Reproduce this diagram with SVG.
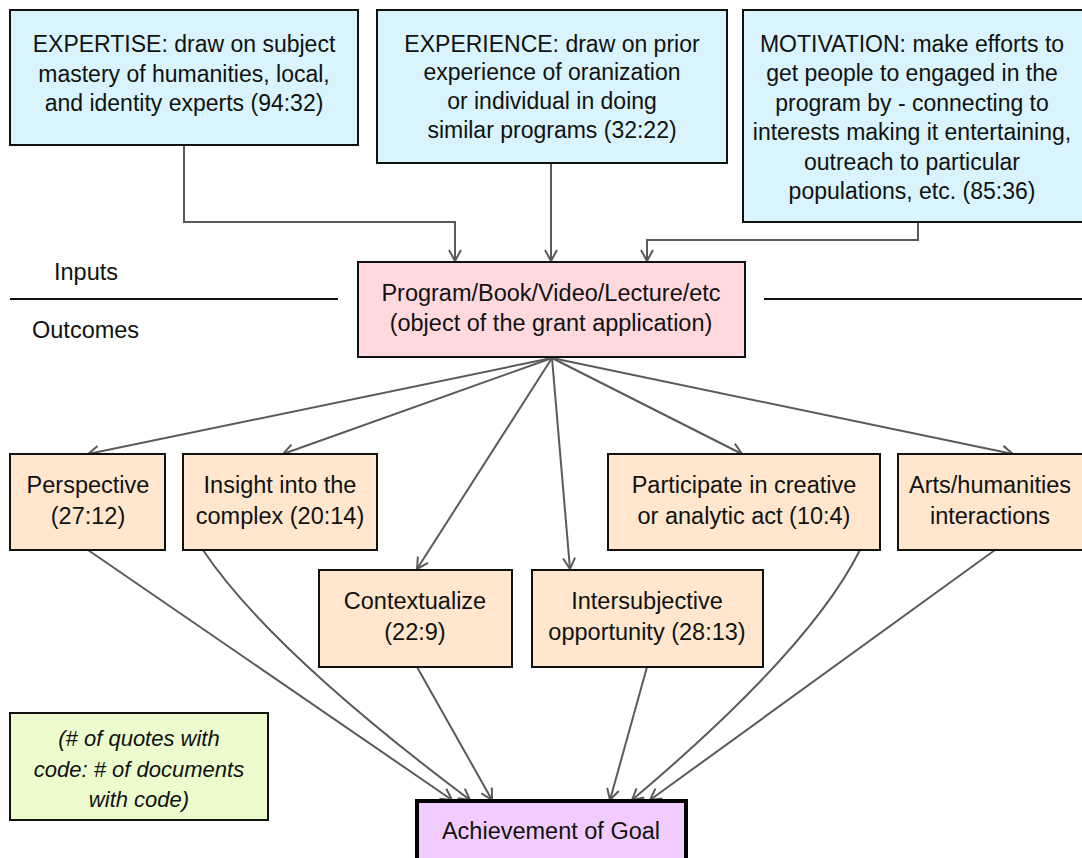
<svg xmlns="http://www.w3.org/2000/svg" width="1082" height="858" viewBox="0 0 1082 858">
<style>
text{font-family:"Liberation Sans",Arial,sans-serif;font-size:23px;fill:#111;text-anchor:middle}
.box{stroke:#111;stroke-width:2}
.in{fill:#d9f4fc}
.prog{fill:#ffd9de}
.out{fill:#ffe6cc}
.leg{fill:#ecfccc}
.goal{fill:#f2ccff;stroke:#000;stroke-width:4}
.c{fill:none;stroke:#5a5a5a;stroke-width:2;marker-end:url(#a)}
.rule{stroke:#111;stroke-width:2}
text.lab{text-anchor:start;font-size:23.5px}
text.it{font-style:italic;font-size:22px}
text.big{font-size:23.5px}
</style>
<defs>
<marker id="a" markerUnits="userSpaceOnUse" markerWidth="14" markerHeight="16" refX="12" refY="7" orient="auto" viewBox="0 0 14 14">
<path d="M1,1 L12,7 L1,13" fill="none" stroke="#5a5a5a" stroke-width="2"/>
</marker>
</defs>
<g id="separator">
<line class="rule" x1="10" y1="299" x2="338" y2="299"/>
<line class="rule" x1="764" y1="299" x2="1082" y2="299"/>
<text class="lab" x="54" y="280">Inputs</text>
<text class="lab" x="32" y="338">Outcomes</text>
</g>
<g id="connectors">
<path class="c" d="M184,145 V222 H455 V261"/>
<path class="c" d="M551,163 V261"/>
<path class="c" d="M918,222 V240 H647 V261"/>
<path class="c" d="M552,358 L88,454"/>
<path class="c" d="M552,358 L283,454"/>
<path class="c" d="M552,358 L417,569"/>
<path class="c" d="M552,358 L570,569"/>
<path class="c" d="M552,358 L742,454"/>
<path class="c" d="M552,358 L1013,454"/>
<path class="c" d="M88,550 L452,800"/>
<path class="c" d="M203,550 Q270,650 470,800"/>
<path class="c" d="M417,667 L492,800"/>
<path class="c" d="M647,667 L610,800"/>
<path class="c" d="M860,550 Q810,650 632,800"/>
<path class="c" d="M995,550 L650,800"/>
</g>
<g id="expertise">
<rect class="box in" x="10" y="10" width="348" height="135"/>
<text x="184" y="52">EXPERTISE: draw on subject</text>
<text x="184" y="82">mastery of humanities, local,</text>
<text x="184" y="111">and identity experts (94:32)</text>
</g>
<g id="experience">
<rect class="box in" x="377" y="10" width="350" height="153"/>
<text x="552" y="52">EXPERIENCE: draw on prior</text>
<text x="552" y="80">experience of oranization</text>
<text x="552" y="109">or individual in doing</text>
<text x="552" y="138">similar programs (32:22)</text>
</g>
<g id="motivation">
<rect class="box in" x="743" y="10" width="340" height="212"/>
<text x="912" y="52">MOTIVATION: make efforts to</text>
<text x="912" y="81">get people to engaged in the</text>
<text x="912" y="111">program by - connecting to</text>
<text x="912" y="140">interests making it entertaining,</text>
<text x="912" y="170">outreach to particular</text>
<text x="912" y="199">populations, etc. (85:36)</text>
</g>
<g id="program">
<rect class="box prog" x="358" y="262" width="387" height="95"/>
<text class="big" x="551" y="301">Program/Book/Video/Lecture/etc</text>
<text class="big" x="551" y="331">(object of the grant application)</text>
</g>
<g id="perspective">
<rect class="box out" x="10" y="454" width="155" height="96"/>
<text class="big" x="88" y="493">Perspective</text>
<text class="big" x="88" y="524">(27:12)</text>
</g>
<g id="insight">
<rect class="box out" x="183" y="454" width="194" height="96"/>
<text class="big" x="280" y="493">Insight into the</text>
<text class="big" x="280" y="524">complex (20:14)</text>
</g>
<g id="contextualize">
<rect class="box out" x="319" y="570" width="193" height="97"/>
<text class="big" x="415" y="609">Contextualize</text>
<text class="big" x="415" y="640">(22:9)</text>
</g>
<g id="intersubjective">
<rect class="box out" x="532" y="570" width="231" height="97"/>
<text class="big" x="647" y="609">Intersubjective</text>
<text class="big" x="647" y="640">opportunity (28:13)</text>
</g>
<g id="participate">
<rect class="box out" x="608" y="454" width="272" height="96"/>
<text class="big" x="744" y="493">Participate in creative</text>
<text class="big" x="744" y="524">or analytic act (10:4)</text>
</g>
<g id="arts">
<rect class="box out" x="898" y="454" width="190" height="96"/>
<text class="big" x="990" y="493">Arts/humanities</text>
<text class="big" x="990" y="524">interactions</text>
</g>
<g id="legend">
<rect class="box leg" x="10" y="713" width="258" height="107"/>
<text class="it" x="139" y="746">(# of quotes with</text>
<text class="it" x="139" y="777">code: # of documents</text>
<text class="it" x="139" y="807">with code)</text>
</g>
<g id="goal">
<rect class="goal" x="417" y="801" width="269" height="60"/>
<text class="big" x="551" y="839">Achievement of Goal</text>
</g>
</svg>
